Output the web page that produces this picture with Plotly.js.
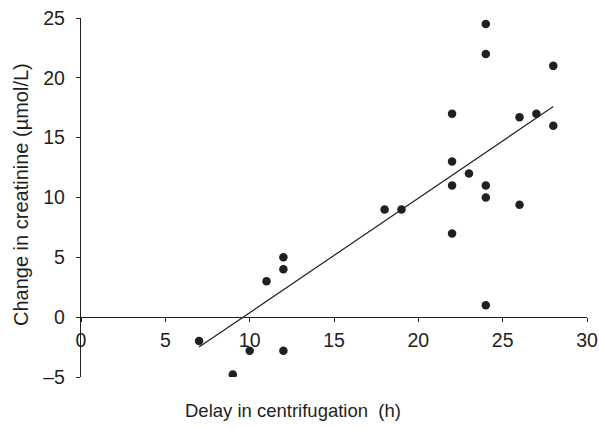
<!DOCTYPE html>
<html>
<head>
<meta charset="utf-8">
<script src="https://cdn.plot.ly/plotly-3.0.1.min.js"></script>
<style>html,body{margin:0;padding:0;background:#fff;}#chart{width:599px;height:429px;}</style>
</head>
<body>
<div id="chart"></div>
<script>
// Delay in centrifugation (h)
var delayHours = [7, 9, 10, 12, 11, 12, 12, 18, 19, 22, 24, 26, 24, 24, 28, 22, 26, 27, 28, 22, 23, 22, 24, 24];
// Change in creatinine (µmol/L)
var creatinineChange = [-2, -4.8, -2.8, -2.8, 3, 4, 5, 9, 9, 7, 1, 9.4, 24.5, 22, 21, 17, 16.7, 17, 16, 13, 12, 11, 11, 10];
// Regression line end points
var fitX = [7, 28];
var fitY = [-2.5, 17.6];
var xTickVals = [0, 5, 10, 15, 20, 25, 30];
var xTickText = ["0", "5", "10", "15", "20", "25", "30"];
var yTickVals = [-5, 0, 5, 10, 15, 20, 25];
var yTickText = ["\u20135", "0", "5", "10", "15", "20", "25"];
var xTitle = "Delay in centrifugation\u00a0 (h)";
var yTitle = "Change in creatinine (\u00b5mol/L)";

var ink = "#231f20";
var fontFam = "Liberation Sans, Arial, sans-serif";

var traces = [
  {x: delayHours, y: creatinineChange, type: "scatter", mode: "markers",
   marker: {color: ink, size: 8.5}, hoverinfo: "skip", showlegend: false},
  {x: fitX, y: fitY, type: "scatter", mode: "lines",
   line: {color: ink, width: 1.2}, hoverinfo: "skip", showlegend: false}
];

var layout = {
  width: 599, height: 429,
  margin: {l: 81, r: 12, t: 18, b: 52, autoexpand: false},
  paper_bgcolor: "#fff", plot_bgcolor: "#fff",
  font: {family: fontFam, color: ink, size: 19.5},
  showlegend: false,
  xaxis: {
    range: [0, 30], anchor: "free", position: 5/30,
    tickmode: "array", tickvals: xTickVals, ticktext: xTickText,
    showgrid: false, zeroline: false, showline: true, linecolor: ink, linewidth: 1.2,
    ticks: "outside", ticklen: 4, tickcolor: ink, tickwidth: 1,
    tickfont: {size: 19.5, color: ink}, ticklabelstandoff: 1,
    automargin: false
  },
  yaxis: {
    range: [-5, 25], domain: [0, 1],
    tickmode: "array", tickvals: yTickVals, ticktext: yTickText,
    showgrid: false, zeroline: false, showline: true, linecolor: ink, linewidth: 1.2,
    ticks: "outside", ticklen: 4, tickcolor: ink, tickwidth: 1,
    tickfont: {size: 19.5, color: ink}, ticklabelstandoff: 7,
    automargin: false
  },
  annotations: [
    {text: xTitle, xref: "paper", yref: "paper", x: 0.419, y: -0.0947,
     xanchor: "center", yanchor: "middle", showarrow: false,
     font: {size: 18.5, color: ink, family: fontFam}},
    {text: yTitle, xref: "paper", yref: "paper", x: -0.1186, y: 0.5097,
     xanchor: "center", yanchor: "middle", showarrow: false, textangle: -90,
     font: {size: 20, color: ink, family: fontFam}}
  ]
};

Plotly.newPlot("chart", traces, layout, {displayModeBar: false, staticPlot: true});
</script>
</body>
</html>
